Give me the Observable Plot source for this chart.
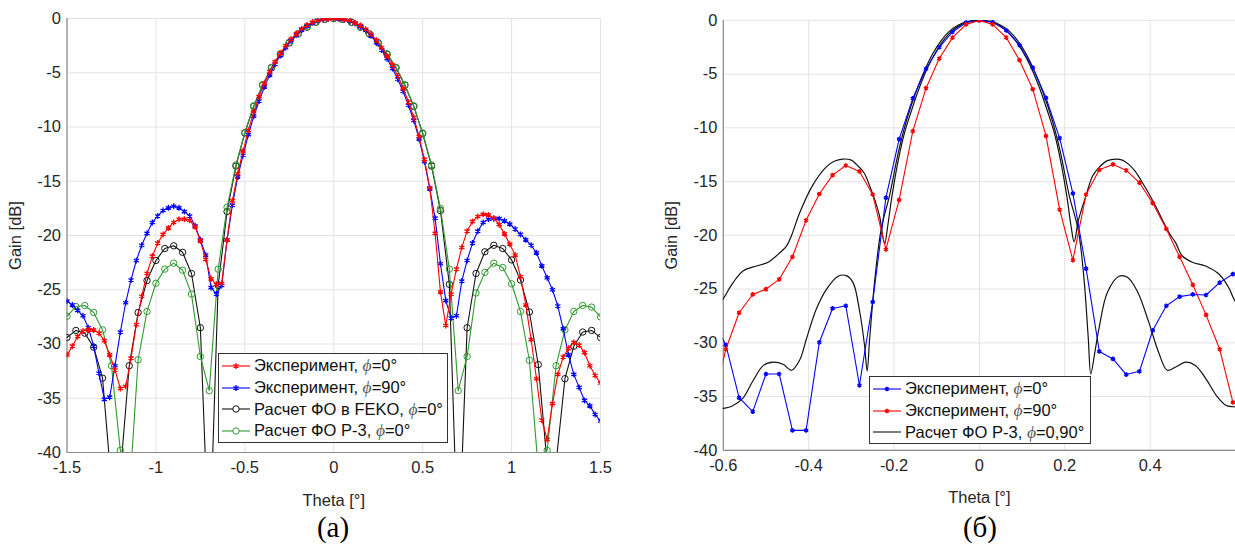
<!DOCTYPE html>
<html>
<head>
<meta charset="utf-8">
<script src="https://cdn.jsdelivr.net/npm/d3@7"></script>
<script src="https://cdn.jsdelivr.net/npm/@observablehq/plot@0.6"></script>
<style>
  html, body { margin: 0; padding: 0; background: #fff; }
  body { width: 1235px; height: 553px; overflow: hidden; position: relative; font-family: "Liberation Sans", Arial, sans-serif; }
  .panel { position: absolute; top: 0; }
  .panel svg text, .panel svg g { font-size: 16.5px !important; font-family: "Liberation Sans", Arial, sans-serif !important; }
  .legend { position: absolute; background: #fff; border: 1px solid #333; font-size: 16.5px; color: #111; box-sizing: border-box; padding-top: 1px; }
  .legend .row { display: flex; align-items: center; height: 21.7px; white-space: nowrap; }
  .legend svg { margin: 0 3px 0 2px; flex: none; }
  .phi { font-family: "Liberation Serif", serif; font-style: italic; color: #555; font-size: 17.5px; }
  .caption { position: absolute; top: 511px; font-family: "Liberation Serif", "Times New Roman", serif; font-size: 29px; transform: translateX(-50%); color: #000; }
</style>
</head>
<body>
<div id="pa" class="panel" style="left:0"></div>
<div id="pb" class="panel" style="left:617px"></div>
<div id="la" class="legend" style="left:218px; top:353px; width:230px; height:90px;"></div>
<div id="lb" class="legend" style="left:869px; top:376px; width:222px; height:68px;"></div>
<div class="caption" style="left:333px">(а)</div>
<div class="caption" style="left:980px">(б)</div>
<script>
// ---------------- Panel (а) ----------------
const xTicksA = [-1.5, -1, -0.5, 0, 0.5, 1, 1.5];
const yTicks = [-40, -35, -30, -25, -20, -15, -10, -5, 0];

// Experimental points (step 0.03°)
const thetaExpA = [
-1.50,-1.47,-1.44,-1.41,-1.38,-1.35,-1.32,-1.29,-1.26,-1.23,
-1.20,-1.17,-1.14,-1.11,-1.08,-1.05,-1.02,-0.99,-0.96,-0.93,
-0.90,-0.87,-0.84,-0.81,-0.78,-0.75,-0.72,-0.69,-0.66,-0.63,
-0.60,-0.57,-0.54,-0.51,-0.48,-0.45,-0.42,-0.39,-0.36,-0.33,
-0.30,-0.27,-0.24,-0.21,-0.18,-0.15,-0.12,-0.09,-0.06,-0.03,
0,
0.03,0.06,0.09,0.12,0.15,0.18,0.21,0.24,0.27,0.30,
0.33,0.36,0.39,0.42,0.45,0.48,0.51,0.54,0.57,0.60,
0.63,0.66,0.69,0.72,0.75,0.78,0.81,0.84,0.87,0.90,
0.93,0.96,0.99,1.02,1.05,1.08,1.11,1.14,1.17,1.20,
1.23,1.26,1.29,1.32,1.35,1.38,1.41,1.44,1.47,1.50];

// Эксперимент, phi=0° (red)
const expRedA = [
-31.0,-30.2,-29.3,-28.8,-28.7,-28.7,-29.0,-29.7,-31.0,-32.4,
-34.1,-33.9,-31.3,-28.2,-25.6,-23.5,-21.9,-20.7,-19.9,-19.3,
-18.8,-18.5,-18.5,-18.6,-19.2,-20.5,-22.2,-24.0,-24.5,-24.4,
-20.4,-16.8,-14.3,-12.2,-10.3,-8.6,-7.2,-6.0,-4.9,-4.0,
-3.2,-2.5,-1.9,-1.4,-0.95,-0.6,-0.35,-0.18,-0.07,-0.02,
0,
-0.02,-0.09,-0.2,-0.4,-0.65,-1.0,-1.45,-2.0,-2.7,-3.45,
-4.3,-5.3,-6.4,-7.7,-9.1,-10.9,-13.0,-15.6,-19.8,-25.2,
-28.3,-25.4,-23.1,-21.1,-19.6,-18.7,-18.25,-18.05,-18.1,-18.4,
-19.0,-19.85,-20.8,-21.8,-23.8,-26.4,-29.6,-33.2,-37.0,-38.8,
-35.5,-32.8,-31.2,-30.4,-29.85,-30.1,-30.8,-32.0,-32.9,-33.6];

// Эксперимент, phi=90° (blue)
const expBlueA = [
-26.05,-26.4,-26.9,-27.4,-28.5,-30.2,-32.7,-35.1,-34.9,-32.0,
-28.9,-26.2,-24.1,-22.3,-20.9,-19.8,-18.8,-18.2,-17.7,-17.45,
-17.3,-17.45,-17.8,-18.2,-19.1,-20.4,-21.8,-24.8,-25.4,-24.6,
-20.4,-17.2,-14.6,-12.6,-10.7,-9.0,-7.6,-6.3,-5.2,-4.2,
-3.4,-2.7,-2.05,-1.5,-1.05,-0.7,-0.4,-0.2,-0.08,-0.02,
0,
-0.03,-0.1,-0.25,-0.45,-0.75,-1.1,-1.6,-2.2,-2.9,-3.7,
-4.6,-5.6,-6.7,-8.0,-9.4,-11.1,-13.2,-15.7,-18.4,-22.6,
-26.0,-27.6,-27.4,-24.2,-22.3,-20.7,-19.6,-18.8,-18.5,-18.45,
-18.45,-18.65,-18.95,-19.4,-19.9,-20.4,-20.9,-21.6,-22.8,-23.9,
-25.0,-26.5,-28.6,-31.0,-32.8,-34.0,-35.2,-35.7,-36.5,-37.1];

// Calculated patterns (step 0.05°)
const thetaCalcA = [
-1.50,-1.45,-1.40,-1.35,-1.30,-1.25,-1.20,-1.15,-1.10,-1.05,
-1.00,-0.95,-0.90,-0.85,-0.80,-0.75,-0.70,-0.65,-0.60,-0.55,
-0.50,-0.45,-0.40,-0.35,-0.30,-0.25,-0.20,-0.15,-0.10,-0.05,
0,
0.05,0.10,0.15,0.20,0.25,0.30,0.35,0.40,0.45,0.50,
0.55,0.60,0.65,0.70,0.75,0.80,0.85,0.90,0.95,1.00,
1.05,1.10,1.15,1.20,1.25,1.30,1.35,1.40,1.45,1.50];

// Расчет ФО в FEKO, phi=0° (black)
const fekoA = [
-29.4,-28.75,-29.0,-30.3,-33.15,-43.0,-42.0,-32.0,-27.1,-24.15,
-22.3,-21.2,-20.95,-21.55,-23.5,-28.5,-50.0,-24.6,-17.8,-13.6,
-10.55,-8.1,-6.15,-4.55,-3.3,-2.25,-1.42,-0.8,-0.35,-0.08,
0,
-0.08,-0.35,-0.8,-1.42,-2.25,-3.3,-4.55,-6.15,-8.1,-10.6,
-13.6,-17.7,-24.5,-50.0,-28.5,-23.5,-21.5,-20.9,-21.2,-22.25,
-24.1,-27.05,-31.9,-41.0,-41.0,-33.2,-30.2,-28.9,-28.75,-29.4];

// Расчет ФО Р-3, phi=0° (green)
const p3A = [
-27.45,-26.55,-26.45,-27.1,-28.7,-32.0,-39.8,-44.0,-31.45,-27.0,
-24.4,-23.1,-22.55,-23.2,-25.4,-31.15,-34.3,-23.1,-17.4,-13.5,
-10.5,-8.05,-6.1,-4.5,-3.25,-2.2,-1.4,-0.78,-0.34,-0.08,
0,
-0.08,-0.34,-0.78,-1.4,-2.2,-3.25,-4.5,-6.1,-8.05,-10.55,
-13.5,-17.5,-23.1,-34.3,-31.15,-25.3,-23.4,-22.55,-22.95,-24.45,
-27.0,-31.5,-41.5,-39.8,-32.0,-28.7,-27.0,-26.45,-26.6,-27.5];

// ---------------- Panel (б) ----------------
const xTicksB = [-0.6, -0.4, -0.2, 0, 0.2, 0.4];

const thetaExpB = [
-0.625,-0.594,-0.563,-0.531,-0.5,-0.469,-0.438,-0.406,-0.375,-0.344,
-0.313,-0.281,-0.25,-0.219,-0.188,-0.156,-0.125,-0.094,-0.063,-0.031,
0,0.031,0.063,0.094,0.125,0.156,0.188,0.219,0.25,0.281,
0.313,0.344,0.375,0.406,0.438,0.469,0.5,0.531,0.563,0.594];

// Эксперимент, phi=0° (blue)
const expBlueB = [
-27.7,-30.2,-35.1,-36.4,-32.9,-32.9,-38.15,-38.15,-29.95,-26.8,
-26.55,-33.95,-26.2,-16.5,-11.05,-7.25,-4.5,-2.5,-1.08,-0.2,
0,-0.15,-0.93,-2.3,-4.4,-7.2,-10.95,-16.1,-23.1,-30.8,
-31.5,-32.95,-32.65,-28.85,-26.55,-25.7,-25.5,-25.55,-24.4,-23.6];

// Эксперимент, phi=90° (red)
const expRedB = [
-35.8,-30.6,-27.2,-25.5,-25.0,-24.1,-22.0,-18.6,-16.15,-14.4,
-13.5,-14.05,-16.2,-21.3,-16.7,-10.3,-6.3,-3.55,-1.6,-0.37,
0,-0.37,-1.6,-3.7,-6.4,-10.75,-17.6,-22.3,-16.2,-13.9,
-13.4,-13.95,-15.1,-17.0,-19.4,-22.0,-24.6,-27.4,-30.6,-35.55];

// Расчет ФО Р-3, phi=0 (black, lower side lobes)
const thetaCalc0B = [
-0.62,-0.60,-0.58,-0.555,-0.53,-0.506,-0.483,-0.46,-0.44,-0.421,
-0.405,-0.382,-0.358,-0.331,-0.312,-0.296,-0.28,-0.269,-0.263,-0.257,
-0.245,-0.23,-0.21,-0.19,-0.17,-0.15,-0.13,-0.11,-0.09,-0.07,
-0.05,-0.03,0,0.03,0.05,0.07,0.09,0.11,0.13,0.15,
0.17,0.19,0.21,0.232,0.245,0.255,0.261,0.27,0.28,0.30,
0.327,0.347,0.37,0.397,0.42,0.44,0.46,0.483,0.506,0.53,
0.557,0.577,0.596,0.62];
const calc0B = [
-36.2,-36.1,-35.9,-35.2,-33.5,-32.1,-31.8,-32.0,-32.55,-31.6,
-29.6,-26.85,-25.0,-23.8,-23.75,-24.4,-27.2,-30.25,-32.6,-29.6,
-24.1,-19.4,-16.2,-12.3,-9.2,-6.8,-4.8,-3.15,-1.9,-1.0,
-0.45,-0.12,0,-0.12,-0.45,-1.0,-1.9,-3.15,-4.8,-6.8,
-9.2,-12.3,-16.2,-19.6,-24.0,-29.5,-32.9,-31.0,-28.7,-25.3,
-23.8,-23.9,-25.2,-28.1,-30.9,-32.55,-32.25,-31.8,-32.1,-33.3,
-35.0,-35.8,-35.95,-36.0];

// Расчет ФО Р-3, phi=90 (black, upper side lobes)
const thetaCalc90B = [
-0.62,-0.60,-0.577,-0.553,-0.522,-0.495,-0.467,-0.452,-0.44,-0.421,
-0.39,-0.358,-0.34,-0.32,-0.30,-0.288,-0.27,-0.257,-0.245,-0.234,
-0.222,-0.215,-0.205,-0.19,-0.175,-0.16,-0.14,-0.12,-0.10,-0.08,
-0.06,-0.04,-0.02,0,0.02,0.04,0.06,0.08,0.10,0.12,
0.14,0.16,0.175,0.19,0.205,0.215,0.222,0.232,0.249,0.265,
0.28,0.30,0.32,0.335,0.35,0.366,0.382,0.397,0.413,0.428,
0.444,0.46,0.475,0.499,0.53,0.561,0.584,0.596,0.62];
const calc90B = [
-27.1,-25.9,-24.4,-23.3,-22.85,-22.5,-21.6,-21.0,-20.0,-17.9,
-15.3,-13.6,-13.1,-12.9,-13.0,-13.4,-14.2,-15.4,-16.7,-18.2,
-20.8,-19.2,-16.4,-13.0,-10.4,-8.5,-6.2,-4.3,-2.8,-1.65,
-0.85,-0.35,-0.08,0,-0.08,-0.35,-0.85,-1.65,-2.8,-4.3,
-6.2,-8.5,-10.4,-13.0,-16.4,-19.2,-20.6,-18.6,-16.4,-14.5,
-13.7,-13.05,-12.9,-13.0,-13.4,-14.1,-15.1,-16.1,-17.3,-18.5,
-19.75,-20.7,-21.9,-22.5,-22.85,-23.6,-24.85,-25.9,-27.5];

const labelsA = ["Эксперимент, ", "Эксперимент, ", "Расчет ФО в FEKO, ", "Расчет ФО Р-3, "];
const phiA = ["=0°", "=90°", "=0°", "=0°"];
const labelsB = ["Эксперимент, ", "Эксперимент, ", "Расчет ФО Р-3, "];
const phiB = ["=0°", "=90°", "=0,90°"];

// ---------------- Drawing ----------------
const RED = "#ff0000", BLUE = "#0000ff", BLACK = "#111111", GREEN = "#2f9a2f";
const GRID = "#e3e3e3", AXIS = "#8a8a8a", TEXT = "#262626";
const FONT = "Liberation Sans, Arial, sans-serif";

const zip = (xs, ys) => xs.map((t, i) => ({t, g: ys[i]}));
const fmt = d => String(d);

function basePlot({width, marginLeft, marginRight, marginTop, xDomain, xTicks, marks}) {
  const height = 515, marginBottom = height - 452;
  return Plot.plot({
    width, height, marginLeft, marginRight, marginTop, marginBottom,
    x: {domain: xDomain},
    y: {domain: [-40, 0]},
    style: {fontFamily: FONT, fontSize: "16.5px", color: TEXT, background: "transparent", overflow: "visible"},
    marks: [
      Plot.gridX(xTicks, {stroke: GRID, strokeOpacity: 1, strokeWidth: 1}),
      Plot.gridY(yTicks, {stroke: GRID, strokeOpacity: 1, strokeWidth: 1}),
      Plot.ruleX([xDomain[0]], {stroke: AXIS, strokeWidth: 1.2}),
      Plot.ruleY([-40], {stroke: AXIS, strokeWidth: 1.2}),
      Plot.axisX(xTicks, {tickSize: 0, tickPadding: 9, tickFormat: fmt, fill: TEXT,
        label: "Theta [°]", labelArrow: "none", labelAnchor: "center", labelOffset: 53}),
      Plot.axisY(yTicks, {tickSize: 0, tickPadding: 6, tickFormat: fmt, fill: TEXT,
        label: "Gain [dB]", labelArrow: "none", labelAnchor: "center", labelOffset: 58}),
      ...marks
    ]
  });
}

const pa = basePlot({
  width: 617, marginLeft: 66.5, marginRight: 17, marginTop: 18,
  xDomain: [-1.5, 1.5], xTicks: xTicksA,
  marks: [
    Plot.line(zip(thetaCalcA, fekoA), {x: "t", y: "g", stroke: BLACK, strokeWidth: 1.1, clip: true}),
    Plot.dot(zip(thetaCalcA, fekoA), {x: "t", y: "g", r: 3.2, stroke: BLACK, strokeWidth: 1, fill: "none", clip: true}),
    Plot.line(zip(thetaCalcA, p3A), {x: "t", y: "g", stroke: GREEN, strokeWidth: 1.1, clip: true}),
    Plot.dot(zip(thetaCalcA, p3A), {x: "t", y: "g", r: 3.2, stroke: GREEN, strokeWidth: 1, fill: "none", clip: true}),
    Plot.line(zip(thetaExpA, expBlueA), {x: "t", y: "g", stroke: BLUE, strokeWidth: 1.1, clip: true}),
    Plot.dot(zip(thetaExpA, expBlueA), {x: "t", y: "g", symbol: "asterisk", r: 2.8, stroke: BLUE, strokeWidth: 1.3, clip: true}),
    Plot.line(zip(thetaExpA, expRedA), {x: "t", y: "g", stroke: RED, strokeWidth: 1.1, clip: true}),
    Plot.dot(zip(thetaExpA, expRedA), {x: "t", y: "g", symbol: "asterisk", r: 2.8, stroke: RED, strokeWidth: 1.3, clip: true})
  ]
});
document.getElementById("pa").appendChild(pa);

const pb = basePlot({
  width: 621, marginLeft: 106.3, marginRight: 0, marginTop: 20,
  xDomain: [-0.6, 0.6], xTicks: xTicksB,
  marks: [
    Plot.line(zip(thetaCalc0B, calc0B), {x: "t", y: "g", stroke: BLACK, strokeWidth: 1.2, curve: "catmull-rom", clip: true}),
    Plot.line(zip(thetaCalc90B, calc90B), {x: "t", y: "g", stroke: BLACK, strokeWidth: 1.2, curve: "catmull-rom", clip: true}),
    Plot.line(zip(thetaExpB, expBlueB), {x: "t", y: "g", stroke: BLUE, strokeWidth: 1.1, clip: true}),
    Plot.dot(zip(thetaExpB, expBlueB), {x: "t", y: "g", symbol: "asterisk", r: 2.2, stroke: BLUE, strokeWidth: 1.6, clip: true}),
    Plot.line(zip(thetaExpB, expRedB), {x: "t", y: "g", stroke: RED, strokeWidth: 1.1, clip: true}),
    Plot.dot(zip(thetaExpB, expRedB), {x: "t", y: "g", symbol: "asterisk", r: 2.2, stroke: RED, strokeWidth: 1.6, clip: true})
  ]
});
document.getElementById("pb").appendChild(pb);

// ---------------- Legends ----------------
function sample(color, marker, r, sw) {
  const ns = "http://www.w3.org/2000/svg";
  const svg = document.createElementNS(ns, "svg");
  svg.setAttribute("width", 30); svg.setAttribute("height", 12);
  const line = document.createElementNS(ns, "line");
  line.setAttribute("x1", 1); line.setAttribute("x2", 29); line.setAttribute("y1", 6); line.setAttribute("y2", 6);
  line.setAttribute("stroke", color); line.setAttribute("stroke-width", 1.1);
  svg.appendChild(line);
  if (marker === "circle") {
    const c = document.createElementNS(ns, "circle");
    c.setAttribute("cx", 15); c.setAttribute("cy", 6); c.setAttribute("r", r);
    c.setAttribute("fill", "#fff"); c.setAttribute("stroke", color);
    svg.appendChild(c);
  } else if (marker === "asterisk") {
    const p = document.createElementNS(ns, "path");
    p.setAttribute("d", d3.symbol(d3.symbolAsterisk, Math.PI * r * r)());
    p.setAttribute("transform", "translate(15,6)");
    p.setAttribute("fill", "none"); p.setAttribute("stroke", color); p.setAttribute("stroke-width", sw);
    svg.appendChild(p);
  }
  return svg;
}
function buildLegend(id, items) {
  const el = document.getElementById(id);
  items.forEach(it => {
    const row = document.createElement("div");
    row.className = "row";
    row.appendChild(sample(it.color, it.marker, it.r, it.sw));
    const span = document.createElement("span");
    span.append(it.label);
    const phi = document.createElement("span");
    phi.className = "phi"; phi.textContent = "ϕ";
    span.appendChild(phi);
    span.append(it.phi);
    row.appendChild(span);
    el.appendChild(row);
  });
}
buildLegend("la", [
  {label: labelsA[0], phi: phiA[0], color: RED, marker: "asterisk", r: 2.8, sw: 1.3},
  {label: labelsA[1], phi: phiA[1], color: BLUE, marker: "asterisk", r: 2.8, sw: 1.3},
  {label: labelsA[2], phi: phiA[2], color: BLACK, marker: "circle", r: 3.2},
  {label: labelsA[3], phi: phiA[3], color: GREEN, marker: "circle", r: 3.2}
]);
buildLegend("lb", [
  {label: labelsB[0], phi: phiB[0], color: BLUE, marker: "asterisk", r: 2.2, sw: 1.6},
  {label: labelsB[1], phi: phiB[1], color: RED, marker: "asterisk", r: 2.2, sw: 1.6},
  {label: labelsB[2], phi: phiB[2], color: BLACK, marker: "none"}
]);
</script>
</body>
</html>
